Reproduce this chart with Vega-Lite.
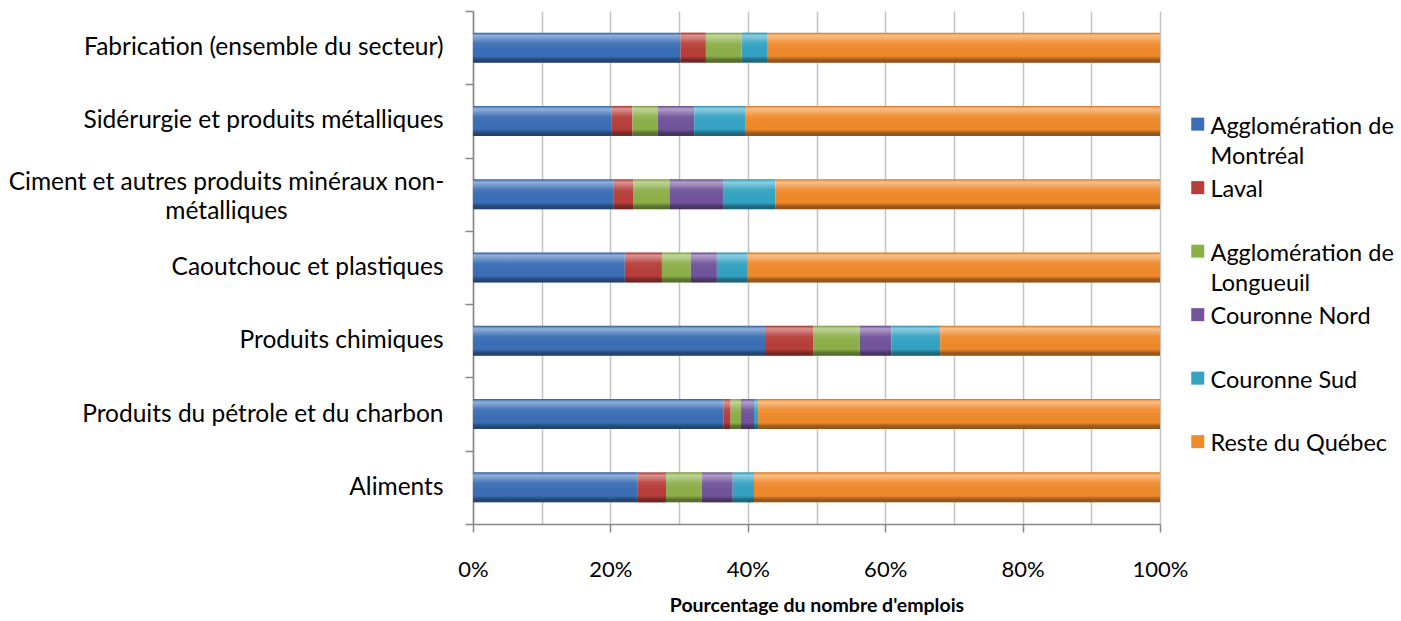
{
  "$schema": "https://vega.github.io/schema/vega-lite/v6.json",
  "width": 687,
  "height": 513,
  "autosize": {"type": "none"},
  "padding": {"left": 473, "top": 11, "right": 241, "bottom": 97},
  "background": "white",
  "config": {
    "view": {"stroke": null},
    "font": "Lato",
    "style": {"guide-label": {"lineHeight": 30}}
  },
  "data": {
    "values": [
      {"secteur": "Fabrication (ensemble du secteur)", "region": "Agglomération de Montréal", "pct": 30.2},
      {"secteur": "Fabrication (ensemble du secteur)", "region": "Laval", "pct": 3.7},
      {"secteur": "Fabrication (ensemble du secteur)", "region": "Agglomération de Longueuil", "pct": 5.2},
      {"secteur": "Fabrication (ensemble du secteur)", "region": "Couronne Nord", "pct": 0},
      {"secteur": "Fabrication (ensemble du secteur)", "region": "Couronne Sud", "pct": 3.7},
      {"secteur": "Fabrication (ensemble du secteur)", "region": "Reste du Québec", "pct": 57.2},
      {"secteur": "Sidérurgie et produits métalliques", "region": "Agglomération de Montréal", "pct": 20.2},
      {"secteur": "Sidérurgie et produits métalliques", "region": "Laval", "pct": 3.0},
      {"secteur": "Sidérurgie et produits métalliques", "region": "Agglomération de Longueuil", "pct": 3.7},
      {"secteur": "Sidérurgie et produits métalliques", "region": "Couronne Nord", "pct": 5.3},
      {"secteur": "Sidérurgie et produits métalliques", "region": "Couronne Sud", "pct": 7.5},
      {"secteur": "Sidérurgie et produits métalliques", "region": "Reste du Québec", "pct": 60.3},
      {"secteur": "Ciment et autres produits minéraux non-métalliques", "region": "Agglomération de Montréal", "pct": 20.5},
      {"secteur": "Ciment et autres produits minéraux non-métalliques", "region": "Laval", "pct": 2.8},
      {"secteur": "Ciment et autres produits minéraux non-métalliques", "region": "Agglomération de Longueuil", "pct": 5.3},
      {"secteur": "Ciment et autres produits minéraux non-métalliques", "region": "Couronne Nord", "pct": 7.8},
      {"secteur": "Ciment et autres produits minéraux non-métalliques", "region": "Couronne Sud", "pct": 7.6},
      {"secteur": "Ciment et autres produits minéraux non-métalliques", "region": "Reste du Québec", "pct": 56.0},
      {"secteur": "Caoutchouc et plastiques", "region": "Agglomération de Montréal", "pct": 22.1},
      {"secteur": "Caoutchouc et plastiques", "region": "Laval", "pct": 5.4},
      {"secteur": "Caoutchouc et plastiques", "region": "Agglomération de Longueuil", "pct": 4.2},
      {"secteur": "Caoutchouc et plastiques", "region": "Couronne Nord", "pct": 3.8},
      {"secteur": "Caoutchouc et plastiques", "region": "Couronne Sud", "pct": 4.5},
      {"secteur": "Caoutchouc et plastiques", "region": "Reste du Québec", "pct": 60.0},
      {"secteur": "Produits chimiques", "region": "Agglomération de Montréal", "pct": 42.5},
      {"secteur": "Produits chimiques", "region": "Laval", "pct": 7.0},
      {"secteur": "Produits chimiques", "region": "Agglomération de Longueuil", "pct": 6.8},
      {"secteur": "Produits chimiques", "region": "Couronne Nord", "pct": 4.6},
      {"secteur": "Produits chimiques", "region": "Couronne Sud", "pct": 7.1},
      {"secteur": "Produits chimiques", "region": "Reste du Québec", "pct": 32.0},
      {"secteur": "Produits du pétrole et du charbon", "region": "Agglomération de Montréal", "pct": 36.5},
      {"secteur": "Produits du pétrole et du charbon", "region": "Laval", "pct": 1.0},
      {"secteur": "Produits du pétrole et du charbon", "region": "Agglomération de Longueuil", "pct": 1.5},
      {"secteur": "Produits du pétrole et du charbon", "region": "Couronne Nord", "pct": 1.9},
      {"secteur": "Produits du pétrole et du charbon", "region": "Couronne Sud", "pct": 0.6},
      {"secteur": "Produits du pétrole et du charbon", "region": "Reste du Québec", "pct": 58.5},
      {"secteur": "Aliments", "region": "Agglomération de Montréal", "pct": 23.9},
      {"secteur": "Aliments", "region": "Laval", "pct": 4.2},
      {"secteur": "Aliments", "region": "Agglomération de Longueuil", "pct": 5.2},
      {"secteur": "Aliments", "region": "Couronne Nord", "pct": 4.5},
      {"secteur": "Aliments", "region": "Couronne Sud", "pct": 3.1},
      {"secteur": "Aliments", "region": "Reste du Québec", "pct": 59.1}
    ]
  },
  "transform": [
    {"stack": "pct", "groupby": ["secteur"], "as": ["debut", "fin"]}
  ],
  "encoding": {
    "y": {
      "field": "secteur",
      "type": "nominal",
      "sort": [
        "Fabrication (ensemble du secteur)",
        "Sidérurgie et produits métalliques",
        "Ciment et autres produits minéraux non-métalliques",
        "Caoutchouc et plastiques",
        "Produits chimiques",
        "Produits du pétrole et du charbon",
        "Aliments"
      ],
      "scale": {"paddingInner": 0, "paddingOuter": 0},
      "axis": {
        "title": null,
        "domainColor": "#888888",
        "domainWidth": 1.5,
        "tickColor": "#888888",
        "tickWidth": 1.5,
        "tickSize": 8,
        "tickBand": "extent",
        "labelFont": "Lato",
        "labelFontSize": 24.5,
        "labelColor": "#000000",
        "labelLimit": 500,
        "labelLineHeight": 29,
        "labelAlign": {"condition": {"test": "datum.value == 'Ciment et autres produits minéraux non-métalliques'", "value": "center"}, "value": "right"},
        "labelPadding": {"condition": {"test": "datum.value == 'Ciment et autres produits minéraux non-métalliques'", "value": 239}, "value": 22},
        "labelOffset": {"condition": {"test": "datum.value == 'Ciment et autres produits minéraux non-métalliques'", "value": -12}, "value": 0},
        "labelExpr": "datum.label == 'Ciment et autres produits minéraux non-métalliques' ? ['Ciment et autres produits minéraux non-', 'métalliques'] : datum.label"
      }
    },
    "x": {
      "field": "debut",
      "type": "quantitative",
      "stack": null,
      "scale": {"domain": [0, 100], "nice": false},
      "axis": {
        "title": "Pourcentage du nombre d'emplois",
        "titleFont": "Lato",
        "titleFontSize": 19.5,
        "titleFontWeight": "bold",
        "titleColor": "#000000",
        "titlePadding": 16,
        "values": [0, 10, 20, 30, 40, 50, 60, 70, 80, 90, 100],
        "labelExpr": "datum.value % 20 == 0 ? datum.value + '%' : ''",
        "labelFont": "Lato",
        "labelFontSize": 22,
        "labelColor": "#000000",
        "labelPadding": 27,
        "labelFlush": false,
        "labelOverlap": false,
        "tickSize": 8,
        "tickColor": "#888888",
        "tickWidth": 1.5,
        "tickOpacity": {"condition": {"test": "datum.value % 20 == 0", "value": 1}, "value": 0},
        "domainColor": "#888888",
        "domainWidth": 1.5,
        "grid": true,
        "gridColor": "#c4c4c4",
        "gridWidth": 1.5
      }
    },
    "x2": {"field": "fin"}
  },
  "layer": [
    {
      "mark": {"type": "bar", "height": 30},
      "encoding": {
        "color": {
          "field": "region",
          "type": "nominal",
          "scale": {
            "domain": [
              "Agglomération de Montréal",
              "Laval",
              "Agglomération de Longueuil",
              "Couronne Nord",
              "Couronne Sud",
              "Reste du Québec"
            ],
            "range": ["#3a6eb6", "#b83e3a", "#8cb049", "#71549b", "#33a3c3", "#f08a2a"]
          },
          "legend": {
            "title": null,
            "orient": "none",
            "legendX": 713,
            "legendY": 104,
            "padding": 0,
            "symbolType": "M-1,-1.4H1V0.6H-1Z",
            "symbolSize": 169,
            "symbolStrokeWidth": 0,
            "labelFont": "Lato",
            "labelFontSize": 23.5,
            "labelColor": "#000000",
            "labelLimit": 300,
            "labelOffset": 1,
            "labelBaseline": "middle",
            "rowPadding": 8.5,
            "labelExpr": "datum.label == 'Agglomération de Montréal' ? ['Agglomération de', 'Montréal'] : datum.label == 'Agglomération de Longueuil' ? ['Agglomération de', 'Longueuil'] : [datum.label, '']"
          }
        }
      }
    },
    {
      "mark": {
        "type": "bar",
        "height": 30,
        "color": {
          "gradient": "linear",
          "x1": 0, "y1": 0, "x2": 0, "y2": 1,
          "stops": [
            {"offset": 0, "color": "rgba(0,0,0,0.1)"},
            {"offset": 0.05, "color": "rgba(255,255,255,0.2)"},
            {"offset": 0.1, "color": "rgba(255,255,255,0.45)"},
            {"offset": 0.2, "color": "rgba(255,255,255,0.3)"},
            {"offset": 0.35, "color": "rgba(255,255,255,0.06)"},
            {"offset": 0.78, "color": "rgba(0,0,0,0)"},
            {"offset": 0.85, "color": "rgba(0,0,0,0.2)"},
            {"offset": 0.9, "color": "rgba(0,0,0,0.35)"},
            {"offset": 1, "color": "rgba(0,0,0,0.4)"}
          ]
        }
      }
    }
  ]
}
